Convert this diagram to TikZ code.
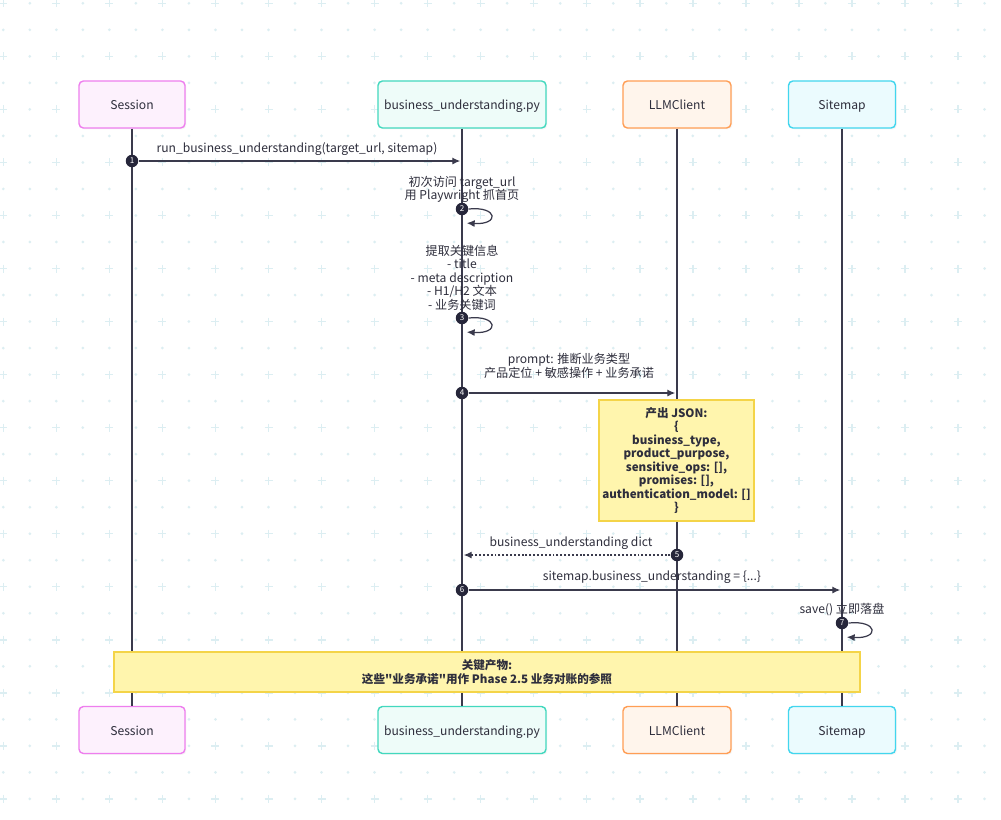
\documentclass[tikz,border=0pt]{standalone}
\usepackage{fontspec}
\setmainfont{Noto Sans CJK SC}[Ligatures=TeXOff]
\usetikzlibrary{arrows.meta, positioning, calc, shadows}
\definecolor{TextDark}{HTML}{2E2E3C}
\definecolor{LineDark}{HTML}{3A3A4C}
\definecolor{DotDark}{HTML}{26263A}
\definecolor{GridCyan}{HTML}{DCEEF2}
\definecolor{SessEdge}{HTML}{EE7EEE}
\definecolor{SessFill}{HTML}{FDF1FD}
\definecolor{BizEdge}{HTML}{42D8BE}
\definecolor{BizFill}{HTML}{EEFCF9}
\definecolor{LlmEdge}{HTML}{FF9E55}
\definecolor{LlmFill}{HTML}{FFF5EC}
\definecolor{MapEdge}{HTML}{42D6EE}
\definecolor{MapFill}{HTML}{EBFBFE}
\definecolor{NoteEdge}{HTML}{F4D448}
\definecolor{NoteFill}{HTML}{FFF5AD}
\newcommand{\msgfont}{\fontsize{6.9}{7.65}\selectfont}
\newcommand{\notefont}{\fontsize{6.6}{7.65}\selectfont}
\tikzset{
  actorbox/.style={line width=0.8pt, rounded corners=2.5pt, minimum height=0.94cm, inner sep=2pt, text height=1.55ex, text depth=0.45ex, font=\msgfont, text=TextDark, drop shadow={opacity=0.07, shadow xshift=0.8pt, shadow yshift=-0.8pt}},
  sessbox/.style={actorbox, draw=SessEdge, fill=SessFill, minimum width=2.12cm},
  bizbox/.style={actorbox, draw=BizEdge, fill=BizFill, minimum width=3.36cm},
  llmbox/.style={actorbox, draw=LlmEdge, fill=LlmFill, minimum width=2.16cm},
  mapbox/.style={actorbox, draw=MapEdge, fill=MapFill, minimum width=2.14cm},
  lifeline/.style={line width=0.75pt, draw=LineDark},
  msgarrow/.style={-{Latex[length=4.5pt, width=4pt]}, line width=0.7pt, draw=LineDark, shorten >=1pt},
  retarrow/.style={msgarrow, dash pattern=on 1.1pt off 1.1pt},
  stepdot/.style={circle, fill=DotDark, text=white, inner sep=0pt, minimum size=0.25cm, font=\fontsize{4.6}{5}\selectfont},
  msglabel/.style={align=center, font=\msgfont, text=TextDark, inner sep=0pt},
  notebox/.style={draw=NoteEdge, fill=NoteFill, line width=0.8pt, align=center, inner sep=2pt, font=\notefont\bfseries, text=TextDark},
  gridcross/.style={draw=GridCyan, line width=0.85pt}
}

\begin{document}
\begin{tikzpicture}[x=0.02cm, y=-0.02cm]
\useasboundingbox[fill=white] (0,0) rectangle (1001,819);

% dotted backdrop
\foreach \i in {0,...,37}{
  \foreach \j in {0,...,30}{
    \pgfmathsetmacro\gx{3.3+26.52*\i}
    \pgfmathsetmacro\gy{3.3+26.52*\j}
    \pgfmathtruncatemacro\both{(mod(\i,2)+mod(\j,2))==0}
    \ifnum\both=1
      \draw[gridcross] (\gx-4,\gy) -- ++(8,0) (\gx,\gy-4) -- ++(0,8);
    \else
      \fill[GridCyan] (\gx,\gy) circle (0.85pt);
    \fi
  }
}

% participants
\node[sessbox] (ses) at (132,104.5) {Session};
\node[bizbox] (biz) at (462,104.5) {business\_understanding.py};
\node[llmbox] (llm) at (677,104.5) {LLMClient};
\node[mapbox] (map) at (842,104.5) {Sitemap};
\node[sessbox] (sesB) at (132,730) {Session};
\node[bizbox] (bizB) at (462,730) {business\_understanding.py};
\node[llmbox] (llmB) at (677,730) {LLMClient};
\node[mapbox] (mapB) at (842,730) {Sitemap};

\draw[lifeline] (ses) -- (sesB);
\draw[lifeline] (biz) -- (bizB);
\draw[lifeline] (llm) -- (llmB);
\draw[lifeline] (map) -- (mapB);

% 1
\node[stepdot] (m1) at (132,161) {1};
\draw[msgarrow] (m1) -- (m1 -| biz);
\node[msglabel] (l1) at (297,149) {run\_business\_understanding(target\_url, sitemap)};

% 2
\node[stepdot] (m2) at (462,209) {2};
\draw[msgarrow] (m2.east) .. controls ($(m2)+(36,-3)$) and ($(m2)+(38,16)$) .. ($(m2)+(3,14)$);
\node[msglabel] (l2) at (462,189.5) {初次访问 target\_url\\用 Playwright 抓首页};

% 3
\node[stepdot] (m3) at (462,318) {3};
\draw[msgarrow] (m3.east) .. controls ($(m3)+(36,-3)$) and ($(m3)+(38,16)$) .. ($(m3)+(3,14)$);
\node[msglabel] (l3) at (462,277.5) {提取关键信息\\- title\\- meta description\\- H1/H2 文本\\- 业务关键词};

% 4
\node[stepdot] (m4) at (462,393) {4};
\draw[msgarrow] (m4) -- (m4 -| llm);
\node[msglabel] (l4) at (569,366) {prompt: 推断业务类型\\产品定位 + 敏感操作 + 业务承诺};

\node[notebox, minimum width=3.1cm, minimum height=2.42cm] (json) at (676.5,460.5) {产出 JSON:\\\{\\business\_type,\\product\_purpose,\\sensitive\_ops: [],\\promises: [],\\authentication\_model: []\\\}};

% 5
\node[stepdot] (m5) at (677,555) {5};
\draw[retarrow] (m5) -- (m5 -| biz);
\node[msglabel] (l5) at (571,543) {business\_understanding dict};

% 6
\node[stepdot] (m6) at (462,590) {6};
\draw[msgarrow] (m6) -- (m6 -| map);
\node[msglabel] (l6) at (652,577) {sitemap.business\_understanding = \{...\}};

% 7
\node[stepdot] (m7) at (842,623) {7};
\draw[msgarrow] (m7.east) .. controls ($(m7)+(36,-3)$) and ($(m7)+(38,16)$) .. ($(m7)+(3,14)$);
\node[msglabel] (l7) at (842,610) {save() 立即落盘};

\node[notebox, minimum width=14.92cm, minimum height=0.8cm] (keynote) at (487,672) {关键产物:\\这些"业务承诺"用作 Phase 2.5 业务对账的参照};
\end{tikzpicture}
\end{document}
